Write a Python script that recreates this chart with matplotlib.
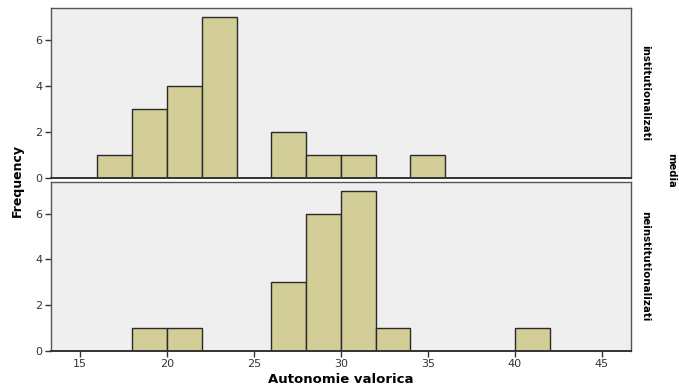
import matplotlib.pyplot as plt

# histogram bins of "Autonomie valorica" (left edges, width 2)
bin_left = [16, 18, 20, 22, 24, 26, 28, 30, 32, 34, 36, 38, 40, 42]
counts_inst = [1, 3, 4, 7, 0, 2, 1, 1, 0, 1, 0, 0, 0, 0]
counts_neinst = [0, 1, 1, 0, 0, 3, 6, 7, 1, 0, 0, 0, 1, 0]
groups = ["institutionalizati", "neinstitutionalizati"]
x_ticks = [15, 20, 25, 30, 35, 40, 45]
y_ticks = [0, 2, 4, 6]

bar_color = "#d3ce97"
panel_bg = "#efefef"
narrow = ["Liberation Sans Narrow", "DejaVu Sans Condensed", "DejaVu Sans"]

fig = plt.figure(figsize=(6.79, 3.88), dpi=100)
ax1 = fig.add_axes([0.0751, 0.5412, 0.854, 0.438])
ax2 = fig.add_axes([0.0751, 0.0954, 0.854, 0.4356])

for ax, counts, name in zip([ax1, ax2], [counts_inst, counts_neinst], groups):
    ax.set_facecolor(panel_bg)
    ax.bar(bin_left, counts, width=2, align="edge", color=bar_color,
           edgecolor="#2a2a2a", linewidth=1.0)
    ax.set_xlim(13.33, 46.67)
    ax.set_ylim(0, 7.38)
    ax.set_yticks(y_ticks)
    ax.tick_params(axis="y", direction="out", length=4, width=1,
                   labelsize=8, colors="#333333", pad=2)
    for s in ax.spines.values():
        s.set_color("#555555")
        s.set_linewidth(1.0)
    ax.spines["bottom"].set_color("#333333")
    ax.spines["bottom"].set_linewidth(1.4)
    # group name down the right side of each panel
    ax.text(1.024, 0.5, name, transform=ax.transAxes, rotation=-90,
            ha="center", va="center", fontsize=7.4, fontweight="bold",
            family=narrow)

ax1.set_xticks([])
ax2.set_xticks(x_ticks)
ax2.tick_params(axis="x", direction="out", length=4, width=1,
                labelsize=8, colors="#333333", pad=2)

fig.text(0.026, 0.535, "Frequency", rotation=90, ha="center", va="center",
         fontsize=9, fontweight="bold")
fig.text(0.502, 0.022, "Autonomie valorica", ha="center", va="center",
         fontsize=9.5, fontweight="bold")
fig.text(0.989, 0.56, "media", rotation=-90, ha="center", va="center",
         fontsize=7.2, fontweight="bold", family=narrow)

fig.savefig("out.png", dpi=100)
